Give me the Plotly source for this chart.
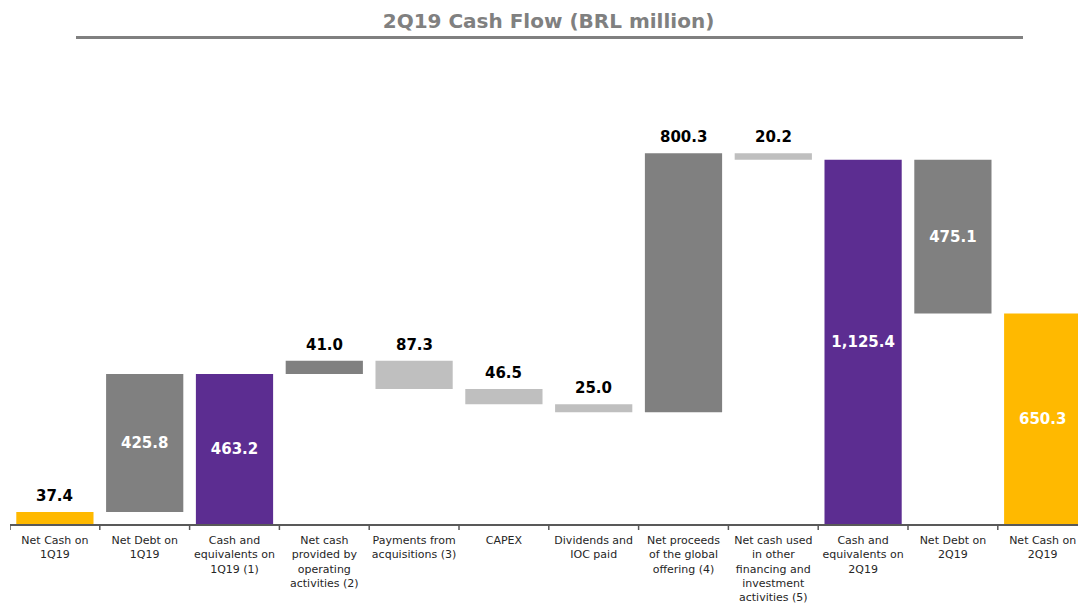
import plotly.graph_objects as go

categories = [
    "Net Cash on<br>1Q19",
    "Net Debt on<br>1Q19",
    "Cash and<br>equivalents on<br>1Q19 (1)",
    "Net cash<br>provided by<br>operating<br>activities (2)",
    "Payments from<br>acquisitions (3)",
    "CAPEX",
    "Dividends and<br>IOC paid",
    "Net proceeds<br>of the global<br>offering (4)",
    "Net cash used<br>in other<br>financing and<br>investment<br>activities (5)",
    "Cash and<br>equivalents on<br>2Q19",
    "Net Debt on<br>2Q19",
    "Net Cash on<br>2Q19",
]
values = [37.4, 425.8, 463.2, 41.0, -87.3, -46.5, -25.0, 800.3, -20.2, 1125.4, -475.1, 650.3]
measures = ["absolute", "relative", "absolute", "relative", "relative", "relative",
            "relative", "relative", "relative", "absolute", "relative", "absolute"]

YELLOW = "#FFB900"
GRAY = "#808080"
LIGHT = "#BFBFBF"
PURPLE = "#5C2D91"
colors = [YELLOW, GRAY, PURPLE, GRAY, LIGHT, LIGHT, LIGHT, GRAY, LIGHT, PURPLE, GRAY, YELLOW]
inside = [False, True, True, False, False, False, False, False, False, True, True, True]

bases, lengths = [], []
running = 0.0
for v, m in zip(values, measures):
    if m == "absolute":
        bases.append(0.0)
        lengths.append(v)
        running = v
    else:
        start, end = running, running + v
        bases.append(min(start, end))
        lengths.append(abs(v))
        running = end

labels = [f"{abs(v):,.1f}" for v in values]
bar_texts = [t if i else "" for t, i in zip(labels, inside)]

LABEL_FONT = dict(family="DejaVu Sans", size=15, weight="bold")

fig = go.Figure(go.Bar(
    x=list(range(len(categories))),
    y=lengths,
    base=bases,
    marker=dict(color=colors, line=dict(width=0)),
    text=bar_texts,
    textposition="inside",
    insidetextanchor="middle",
    textfont=dict(**LABEL_FONT, color="white"),
    constraintext="none",
    hoverinfo="skip",
))

# labels above the smaller bars
for k, (b, l, t, i) in enumerate(zip(bases, lengths, labels, inside)):
    if not i:
        fig.add_annotation(x=k, y=b + l, text=t, showarrow=False,
                           xref="x", yref="y", yanchor="bottom", yshift=5,
                           font=dict(**LABEL_FONT, color="black"))

fig.update_layout(
    width=1078, height=603,
    margin=dict(l=10, r=0, t=60, b=79),
    paper_bgcolor="white", plot_bgcolor="white",
    bargap=0.14,
    showlegend=False,
    title=dict(
        text="<b>2Q19 Cash Flow (BRL million)</b>",
        x=548.5 / 1078, xanchor="center", xref="container",
        y=1 - 21 / 603, yanchor="middle", yref="container",
        font=dict(family="DejaVu Sans", size=20, color="#808080"),
    ),
    font=dict(family="DejaVu Sans"),
)

fig.update_xaxes(
    tickmode="array",
    tickvals=list(range(len(categories))),
    ticktext=categories,
    range=[-0.5, -0.5 + 1068 / 89.8],
    showline=True, linecolor="#595959", linewidth=1.5,
    ticks="", showgrid=False, zeroline=False,
    tickfont=dict(family="DejaVu Sans", size=11, color="#262626"),
    ticklabelstandoff=5,
    ticklabeloverflow="allow",
    automargin=False,
    fixedrange=True,
)
fig.update_yaxes(range=[0, 464 / 0.3236], visible=False, showgrid=False,
                 zeroline=False, automargin=False)

# category boundary tick marks
for k in range(len(categories) + 1):
    xb = k - 0.5
    fig.add_shape(type="line", xref="x", yref="paper", x0=xb, x1=xb, y0=0, y1=-6 / 464,
                  line=dict(color="#595959", width=1.5))

# line under the title
fig.add_shape(type="line", xref="paper", yref="paper",
              x0=(76 - 10) / 1068, x1=(1023 - 10) / 1068,
              y0=(524 - 37.5) / 464, y1=(524 - 37.5) / 464,
              line=dict(color="#808080", width=3))

fig.write_html("out.html")
